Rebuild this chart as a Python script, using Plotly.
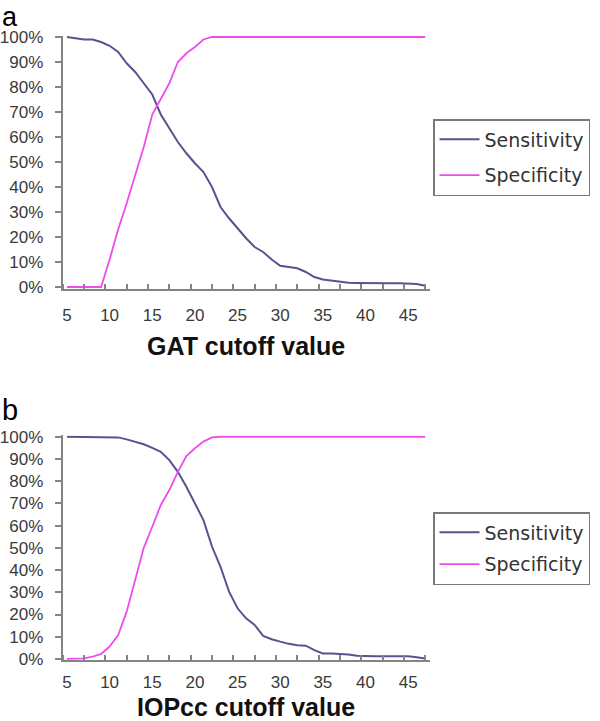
import plotly.graph_objects as go

# ---- data ----
cutoff = list(range(5, 48))  # 5..47 mmHg

# Panel a: GAT
gat_sensitivity = [100, 99.5, 99, 99, 98, 96.5, 94, 89.5, 86, 81.5, 77, 69, 63.5, 58, 53.5, 49.5,
                   46, 40, 32, 27.5, 23.5, 19.5, 16, 14, 11, 8.5, 8, 7.5, 6, 4, 3, 2.5, 2,
                   1.7, 1.6, 1.5, 1.5, 1.5, 1.5, 1.5, 1.5, 1.2, 0.5]
gat_specificity = [0, 0, 0, 0, 0, 11, 23, 33.5, 45, 56, 69, 75, 81.5, 90, 93.5, 96, 99, 100,
                   100, 100, 100, 100, 100, 100, 100, 100, 100, 100, 100, 100, 100, 100, 100,
                   100, 100, 100, 100, 100, 100, 100, 100, 100, 100]

# Panel b: IOPcc
iop_sensitivity = [100, 100, 100, 100, 100, 100, 99.7, 98.8, 97.8, 96.6, 95, 93.2, 89.5, 84.2,
                   77.5, 70, 62.5, 50.6, 41.5, 30.3, 22.8, 18.3, 15.3, 10.4, 8.9, 7.8, 6.8, 6.2,
                   6, 4, 2.5, 2.5, 2.4, 2, 1.4, 1.2, 1.2, 1.2, 1.2, 1.2, 1.2, 0.8, 0.2]
iop_specificity = [0, 0, 0.3, 1, 2.3, 5.6, 10.8, 21.3, 36, 50, 59.5, 69.3, 76, 84.2, 91.3, 94.8,
                   97.8, 99.7, 100, 100, 100, 100, 100, 100, 100, 100, 100, 100, 100, 100, 100,
                   100, 100, 100, 100, 100, 100, 100, 100, 100, 100, 100, 100]

x_tick_vals = [5, 10, 15, 20, 25, 30, 35, 40, 45]
y_tick_vals = [0, 10, 20, 30, 40, 50, 60, 70, 80, 90, 100]
y_tick_text = [f"{v}%" for v in y_tick_vals]

SENS_COLOR = "#55558e"
SPEC_COLOR = "#ee4cee"
AXIS_COLOR = "#858585"
TICK_FONT = dict(family="Liberation Sans, Arial, sans-serif", size=17, color="#3a3a3a")
LEGEND_FONT = dict(family="DejaVu Sans, Verdana, sans-serif", size=19, color="#333333")
TITLE_FONT = dict(family="Liberation Sans, Arial, sans-serif", size=25, color="#111111")

W, H = 600, 721

def px_x(p):
    return p / W

def px_y(p):
    return 1 - p / H

fig = go.Figure()

fig.add_trace(go.Scatter(x=cutoff, y=gat_sensitivity, mode="lines", name="Sensitivity",
                         line=dict(color=SENS_COLOR, width=2), xaxis="x", yaxis="y",
                         legend="legend", legendgroup="a1"))
fig.add_trace(go.Scatter(x=cutoff, y=gat_specificity, mode="lines", name="Specificity",
                         line=dict(color=SPEC_COLOR, width=1.8), xaxis="x", yaxis="y",
                         legend="legend", legendgroup="a2"))
fig.add_trace(go.Scatter(x=cutoff, y=iop_sensitivity, mode="lines", name="Sensitivity",
                         line=dict(color=SENS_COLOR, width=2), xaxis="x2", yaxis="y2",
                         legend="legend2", legendgroup="b1"))
fig.add_trace(go.Scatter(x=cutoff, y=iop_specificity, mode="lines", name="Specificity",
                         line=dict(color=SPEC_COLOR, width=1.8), xaxis="x2", yaxis="y2",
                         legend="legend2", legendgroup="b2"))

x_dom = [px_x(62.7), px_x(429.5)]

def xaxis_cfg(title, anchor, label_standoff, title_standoff):
    return dict(
        domain=x_dom, range=[4.5, 47.5], anchor=anchor, automargin=False,
        showline=True, linecolor=AXIS_COLOR, linewidth=2,
        showgrid=False, zeroline=False,
        tickmode="array", tickvals=x_tick_vals, ticks="",
        tickfont=TICK_FONT, ticklabelstandoff=label_standoff,
        minor=dict(tick0=4.5, dtick=2.5, ticks="inside", ticklen=5,
                   tickwidth=1.5, tickcolor=AXIS_COLOR, showgrid=False),
        title=dict(text=title, font=TITLE_FONT, standoff=title_standoff),
    )

def yaxis_cfg(domain, anchor):
    return dict(
        domain=domain, range=[-0.6, 100.6], anchor=anchor, automargin=False,
        showline=True, linecolor=AXIS_COLOR, linewidth=2,
        showgrid=False, zeroline=False,
        tickmode="array", tickvals=y_tick_vals, ticktext=y_tick_text,
        ticks="outside", ticklen=6, tickwidth=1.5, tickcolor=AXIS_COLOR,
        tickfont=TICK_FONT, ticklabelstandoff=8,
    )

legend_common = dict(
    xanchor="left", yanchor="top", bgcolor="white",
    bordercolor="#7a7a7a", borderwidth=1.5, font=LEGEND_FONT,
    itemwidth=40, itemclick=False, itemdoubleclick=False,
)

fig.update_layout(
    width=W, height=H,
    margin=dict(l=0, r=0, t=0, b=0, autoexpand=False),
    paper_bgcolor="white", plot_bgcolor="white",
    xaxis=xaxis_cfg("<b>GAT cutoff value</b>", "y", 10, 14),
    yaxis=yaxis_cfg([px_y(288.5), px_y(35.5)], "x"),
    xaxis2=xaxis_cfg("<b>IOPcc cutoff value</b>", "y2", 5, 9),
    yaxis2=yaxis_cfg([px_y(660.3), px_y(435.4)], "x2"),
    legend=dict(x=px_x(433), y=px_y(119), tracegroupgap=8, **legend_common),
    legend2=dict(x=px_x(433), y=px_y(512), tracegroupgap=4, **legend_common),
    annotations=[
        dict(text="a", x=0, y=px_y(0), xref="paper", yref="paper", xanchor="left",
             yanchor="top", showarrow=False,
             font=dict(family="Liberation Sans, Arial, sans-serif", size=27, color="black")),
        dict(text="b", x=0, y=px_y(392), xref="paper", yref="paper", xanchor="left",
             yanchor="top", showarrow=False,
             font=dict(family="Liberation Sans, Arial, sans-serif", size=29, color="black")),
    ],
    showlegend=True,
)

fig.write_html("out.html", config={"displayModeBar": False},
               post_script="document.body.style.margin='0';")
